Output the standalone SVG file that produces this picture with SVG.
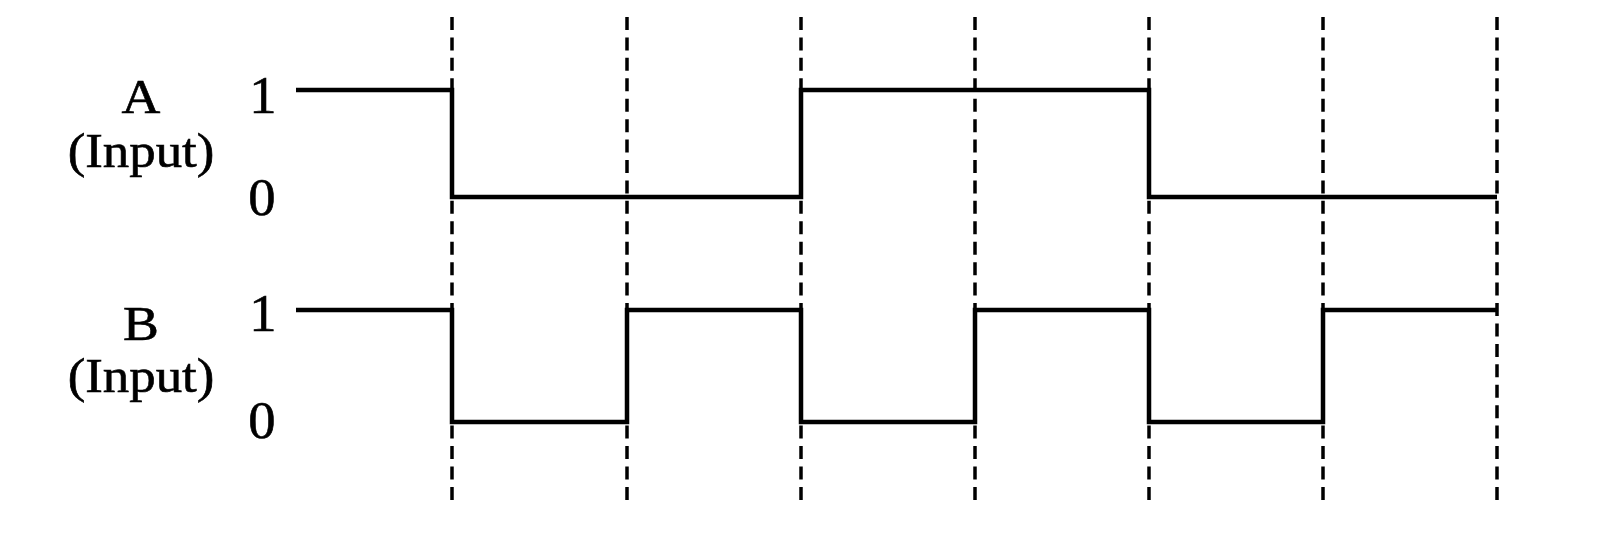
<svg xmlns="http://www.w3.org/2000/svg" width="1600" height="533" viewBox="0 0 1600 533">
<style>
.lbl{font-family:"Liberation Serif","Times New Roman",serif;font-size:48px;fill:#000;stroke:#000;stroke-width:0.6}
.dig{font-family:"Liberation Serif","Times New Roman",serif;font-size:52px;fill:#000;stroke:#000;stroke-width:0.6}
.grid{stroke:#000;stroke-width:3.5;stroke-dasharray:13 7.43;fill:none}
.sig{stroke:#000;stroke-width:4.5;fill:none;stroke-linejoin:miter}
</style>
<rect width="1600" height="533" fill="#fff"/>
<g id="grid">
<line class="grid" x1="452" y1="17" x2="452" y2="500"/>
<line class="grid" x1="627" y1="17" x2="627" y2="500"/>
<line class="grid" x1="801" y1="17" x2="801" y2="500"/>
<line class="grid" x1="975" y1="17" x2="975" y2="500"/>
<line class="grid" x1="1149" y1="17" x2="1149" y2="500"/>
<line class="grid" x1="1323" y1="17" x2="1323" y2="500"/>
<line class="grid" x1="1497" y1="17" x2="1497" y2="500"/>
</g>
<g id="signalA">
<text class="lbl" text-anchor="middle" transform="translate(141,113) scale(1.12,1)">A</text>
<text class="lbl" text-anchor="middle" transform="translate(141,167) scale(1.1,1)">(Input)</text>
<text class="dig" text-anchor="middle" transform="translate(263,113) scale(1.05,1)">1</text>
<text class="dig" text-anchor="middle" transform="translate(262,215) scale(1.05,1)">0</text>
<polyline class="sig" points="296,90 452,90 452,197 801,197 801,90 1149,90 1149,197 1497,197"/>
</g>
<g id="signalB">
<text class="lbl" text-anchor="middle" transform="translate(141,340) scale(1.12,1)">B</text>
<text class="lbl" text-anchor="middle" transform="translate(141,392) scale(1.1,1)">(Input)</text>
<text class="dig" text-anchor="middle" transform="translate(263,331) scale(1.05,1)">1</text>
<text class="dig" text-anchor="middle" transform="translate(262,438) scale(1.05,1)">0</text>
<polyline class="sig" points="296,310 452,310 452,422 627,422 627,310 801,310 801,422 975,422 975,310 1149,310 1149,422 1323,422 1323,310 1497,310"/>
</g>
</svg>
